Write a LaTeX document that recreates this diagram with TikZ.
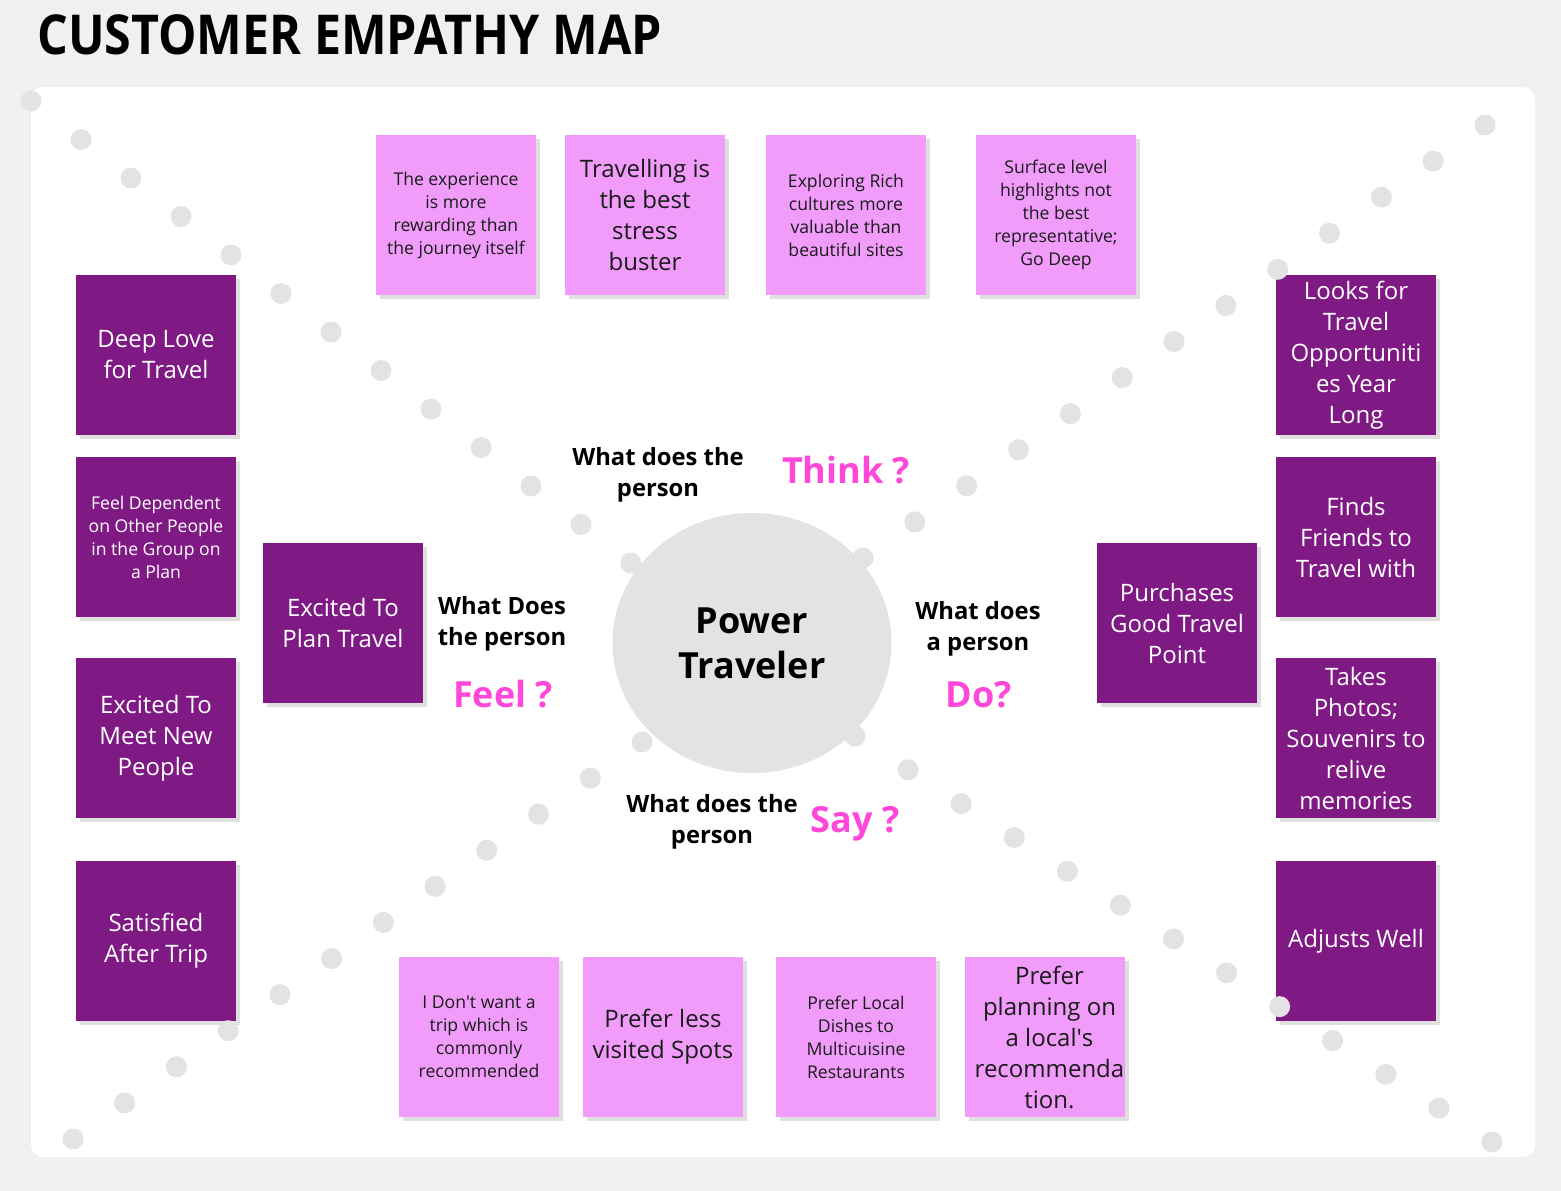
\documentclass[tikz,border=0pt]{standalone}
\usepackage{fontspec}
\usepackage{graphicx}
\setmainfont{Open Sans}
\usetikzlibrary{shadows,positioning,shapes.geometric}
\definecolor{pagebg}{HTML}{F0F0F0}
\definecolor{notepink}{HTML}{F19CFA}
\definecolor{notepurple}{HTML}{7F1A84}
\definecolor{dotgray}{HTML}{E3E3E3}
\definecolor{askpink}{HTML}{FF47DA}
\definecolor{shadowgray}{HTML}{DFDFDF}
\definecolor{notetext}{HTML}{1A1A1A}
\newcommand{\smalltxt}{\fontsize{17.6}{23}\selectfont}
\newcommand{\bigtxt}{\fontsize{24}{31}\selectfont}
\begin{document}
\begin{tikzpicture}[x=1pt,y=-1pt,
 note/.style={minimum width=160pt,minimum height=160pt,inner sep=0pt,align=center,
  drop shadow={shadow xshift=4pt,shadow yshift=-4pt,fill=shadowgray,opacity=1}},
 pnote/.style={note,fill=notepink,text=notetext},
 vnote/.style={note,fill=notepurple,text=white},
 ask/.style={font=\bfseries\fontsize{23.8}{31}\selectfont,align=center,inner sep=0pt},
 askword/.style={font=\bfseries\fontsize{36}{40}\selectfont,text=askpink,inner sep=0pt},
 dot/.style={fill=dotgray}]
\useasboundingbox (0,0) rectangle (1561,1191);
\fill[pagebg] (0,0) rectangle (1561,1191);
\fill[white,rounded corners=12pt] (31,87) rectangle (1535,1157);
\node[anchor=base west,inner sep=0pt,font=\bfseries\fontsize{55}{60}\selectfont] (title) at (37,54)
 {\scalebox{0.88}[1]{CUSTOMER EMPATHY MAP}};
% centre
\node[ellipse,fill=dotgray,minimum width=279pt,minimum height=260pt,inner sep=0pt,align=center,
 font=\bfseries\fontsize{36}{45}\selectfont] (persona) at (752,643) {Power\\Traveler};
% think
\node[pnote,font=\smalltxt] (t1) at (456,215) {The experience\\is more\\rewarding than\\the journey itself};
\node[pnote,font=\bigtxt] (t2) at (645,215) {Travelling is\\the best\\stress\\buster};
\node[pnote,font=\smalltxt] (t3) at (846,215) {Exploring Rich\\cultures more\\valuable than\\beautiful sites};
\node[pnote,font=\smalltxt] (t4) at (1056,215) {Surface level\\highlights not\\the best\\representative;\\Go Deep};
% say
\node[pnote,font=\smalltxt] (s1) at (479,1037) {I Don\textquotesingle t want a\\trip which is\\commonly\\recommended};
\node[pnote,font=\bigtxt] (s2) at (663,1037) {Prefer less\\visited Spots};
\node[pnote,font=\smalltxt] (s3) at (856,1037) {Prefer Local\\Dishes to\\Multicuisine\\Restaurants};
\node[pnote,font=\bigtxt] (s4) at (1045,1037) {\hspace*{9pt}Prefer\\\hspace*{9pt}planning on\\\hspace*{9pt}a local\textquotesingle s\\\hspace*{9pt}recommenda\\\hspace*{9pt}tion.};
% feel
\node[vnote,font=\bigtxt] (f1) at (156,355) {Deep Love\\for Travel};
\node[vnote,font=\smalltxt] (f2) at (156,537) {Feel Dependent\\on Other People\\in the Group on\\a Plan};
\node[vnote,font=\bigtxt] (f3) at (156,738) {Excited To\\Meet New\\People};
\node[vnote,font=\bigtxt] (f4) at (156,941) {Satisfied\\After Trip};
\node[vnote,font=\bigtxt] (f5) at (343,623) {Excited To\\Plan Travel};
% do
\node[vnote,font=\bigtxt] (d1) at (1177,623) {Purchases\\Good Travel\\Point};
\node[vnote,font=\bigtxt] (d2) at (1356,355) {Looks for\\Travel\\Opportuniti\\es Year\\Long};
\node[vnote,font=\bigtxt] (d3) at (1356,537) {Finds\\Friends to\\Travel with};
\node[vnote,font=\bigtxt] (d4) at (1356,738) {Takes\\Photos;\\Souvenirs to\\relive\\memories};
\node[vnote,font=\bigtxt] (d5) at (1356,941) {Adjusts Well};
% quadrant questions
\node[ask] (thinkq) at (658,475) {What does the\\person};
\node[askword] (thinkw) at (846,470) {Think ?};
\node[ask] (feelq) at (502,624) {What Does\\the person};
\node[askword] (feelw) at (503,694) {Feel ?};
\node[ask] (doq) at (978,629) {What does\\a person};
\node[askword] (dow) at (979,695) {Do?};
\node[ask] (sayq) at (712,822) {What does the\\person};
\node[askword] (sayw) at (855,824) {Say ?};
% dotted diagonals
\foreach \i in {0,...,12}{
 \fill[dot] ({31+50*\i},{101+38.5*\i}) circle[radius=10.5pt];
 \fill[dot] ({1485-51.83*\i},{125+36.08*\i}) circle[radius=10.5pt];
 \fill[dot] ({855+53.08*\i},{736+33.83*\i}) circle[radius=10.5pt];}
\foreach \i in {0,...,11}
 \fill[dot] ({642-51.73*\i},{742+36.09*\i}) circle[radius=10.5pt];
\end{tikzpicture}
\end{document}
